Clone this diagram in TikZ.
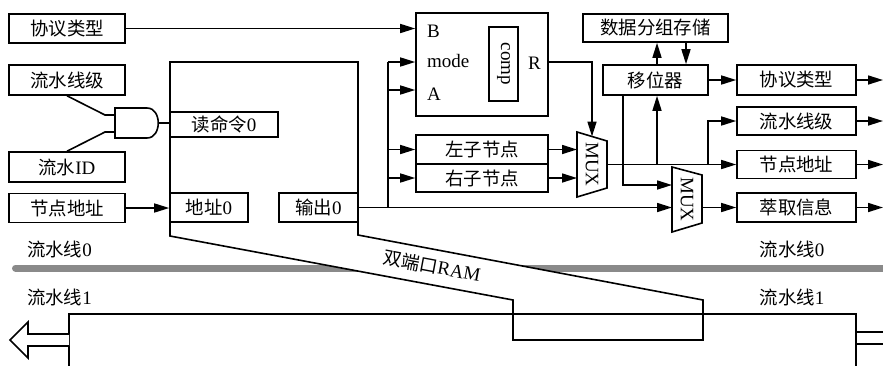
\documentclass[tikz,border=0pt]{standalone}
\usepackage{fontspec}
\setmainfont{Liberation Serif}
\newfontfamily\cjk[Scale=0.97]{Noto Sans CJK SC}
\usetikzlibrary{arrows.meta}
\newcommand\zh[1]{{\cjk #1}}
\newcommand\figfont{\fontsize{19}{22}\selectfont}
\definecolor{railgray}{RGB}{138,138,138}
\tikzset{
  ln/.style={line width=1.6pt},
  box/.style={draw, line width=1.6pt, inner sep=0pt, font=\figfont},
  arr/.style={line width=1.6pt, -{Triangle[length=15pt,width=9pt]}},
  lbl/.style={inner sep=0pt, font=\figfont},
}
\begin{document}
\begin{tikzpicture}[x=1pt,y=-1pt]
\useasboundingbox (0,0) rectangle (883,365);

% pipeline separator
\draw[line width=7pt, color=railgray, line cap=round] (15.5,268) -- (890,268);

% dual-port RAM outline (filled, covers the rail)
\draw[ln, fill=white] (170,62) -- (358,62) -- (358,235) -- (703,300) -- (703,340)
   -- (513,340) -- (513,300) -- (170,236) -- cycle;
\node[lbl, rotate=-10.6] (ramlbl) at (432,266) {\zh{双端口}RAM};

% pipeline 1
\draw[ln] (69,366) -- (69,314) -- (856,314) -- (856,366);
\draw[ln] (856,332) -- (884,332);
\draw[ln] (856,344) -- (884,344);
\draw[ln, fill=white] (69,334) -- (28,334) -- (28,322) -- (10,340) -- (28,358) -- (28,346) -- (69,346);

% pipeline labels
\node[lbl] (p0l) at (59.5,249) {\zh{流水线}0};
\node[lbl] (p1l) at (59.5,297) {\zh{流水线}1};
\node[lbl] (p0r) at (792,249) {\zh{流水线}0};
\node[lbl] (p1r) at (792,297) {\zh{流水线}1};

% left inputs
\node[box, minimum width=116, minimum height=29] (protoIn) at (67,28.5) {\zh{协议类型}};
\node[box, minimum width=116, minimum height=30] (stageIn) at (67,80) {\zh{流水线级}};
\node[box, minimum width=116, minimum height=30] (idIn) at (67,167) {\zh{流水}ID};
\node[box, minimum width=116, minimum height=29] (addrIn) at (67,208) {\zh{节点地址}};

% RAM ports
\node[box, minimum width=108, minimum height=25] (rd0) at (224,124.5) {\zh{读命令}0};
\node[box, minimum width=78, minimum height=29] (addr0) at (209,207.5) {\zh{地址}0};
\node[box, minimum width=79, minimum height=29] (out0) at (318.5,207.5) {\zh{输出}0};

% AND gate
\draw[ln, fill=white] (115,108) -- (147,108) .. controls (162,108) and (162,138) .. (147,138) -- (115,138) -- cycle;
\coordinate (gA) at (115,115);
\coordinate (gB) at (115,132);
\coordinate (gO) at (158,123);
\coordinate (gAk) at (105,115);
\coordinate (gBk) at (105,132);
\draw[ln] (stageIn.south) -- (gAk) -- (gA);
\draw[ln] (idIn.north) -- (gBk) -- (gB);
\draw[ln] (gO) -- (gO -| rd0.west);
\draw[arr] (addrIn.east) -- (addrIn.east -| addr0.west);

% comparator
\node[box, minimum width=132, minimum height=103] (cmp) at (482,64.5) {};
\node[box, rotate=-90, minimum width=74, minimum height=29] (cmpin) at (503.5,64) {comp};
\node[lbl, anchor=base west] (lB) at (427,37) {B};
\node[lbl, anchor=base west] (lmode) at (427,67) {mode};
\node[lbl, anchor=base west] (lA) at (427,100) {A};
\node[lbl, anchor=base west] (lR) at (528,69) {R};

% children
\node[box, minimum width=132, minimum height=29] (lc) at (482,149.5) {\zh{左子节点}};
\node[box, minimum width=132, minimum height=28] (rc) at (482,178) {\zh{右子节点}};

% MUX 1
\coordinate (m1a) at (577,132);
\coordinate (m1b) at (607,141);
\coordinate (m1c) at (607,188);
\coordinate (m1d) at (577,197);
\draw[ln] (m1a) -- (m1b) -- (m1c) -- (m1d) -- cycle;
\node[lbl, rotate=-90] (mux1) at (592,164.5) {MUX};
\coordinate (m1top) at (592,136.5);
\coordinate (m1l) at (577,164.5);
\coordinate (m1out) at (607,164.5);

% MUX 2
\coordinate (m2a) at (672,167);
\coordinate (m2b) at (702,175);
\coordinate (m2c) at (702,223);
\coordinate (m2d) at (672,232);
\draw[ln] (m2a) -- (m2b) -- (m2c) -- (m2d) -- cycle;
\node[lbl, rotate=-90] (mux2) at (687,199.5) {MUX};
\coordinate (m2l) at (672,200);
\coordinate (m2out) at (702,207.5);

% right side boxes
\node[box, minimum width=145, minimum height=28] (store) at (655.5,28) {\zh{数据分组存储}};
\node[box, minimum width=105, minimum height=30] (shifter) at (655.5,80) {\zh{移位器}};
\node[box, minimum width=119, minimum height=30] (protoOut) at (796.5,80) {\zh{协议类型}};
\node[box, minimum width=119, minimum height=28] (stageOut) at (796.5,121) {\zh{流水线级}};
\node[box, minimum width=119, minimum height=28] (addrOut) at (796.5,164.5) {\zh{节点地址}};
\node[box, minimum width=119, minimum height=29] (extract) at (796.5,207.5) {\zh{萃取信息}};

% connections into comparator
\draw[arr] (protoIn.east) -- (protoIn.east -| cmp.west);
\coordinate (v) at (388,207.5);
\coordinate (vm) at (388,62);
\coordinate (va) at (388,90);
\draw[ln] (v) -- (vm);
\draw[arr] (vm) -- (vm -| cmp.west);
\draw[arr] (va) -- (va -| cmp.west);
\draw[arr] (v |- lc.west) -- (lc.west);
\draw[arr] (v |- rc.west) -- (rc.west);
\draw[arr] (out0.east) -- (out0.east -| m2l);

% comparator result into MUX1
\coordinate (rj) at (592,62);
\draw[arr] (rj -| cmp.east) -- (rj) -- (m1top);
\draw[arr] (lc.east) -- (lc.east -| m1l);
\draw[arr] (rc.east) -- (rc.east -| m1l);

% MUX1 output and branches
\draw[arr] (m1out) -- (addrOut.west);
\coordinate (b1) at (657,164.5);
\coordinate (b2) at (708,164.5);
\draw[arr] (b1) -- (b1 |- shifter.south);
\draw[arr] (b2) -- (b2 |- stageOut.west) -- (stageOut.west);

% shifter and store
\draw[arr] (shifter.north -| b1) -- (store.south -| b1);
\coordinate (b3) at (686,50);
\draw[arr] (store.south -| b3) -- (shifter.north -| b3);
\draw[arr] (shifter.east) -- (protoOut.west);
\coordinate (b4) at (623,185);
\draw[arr] (shifter.south -| b4) -- (b4) -- (b4 -| m2l);

% MUX2 output
\draw[arr] (m2out) -- (extract.west);

% outputs to the right edge
\coordinate (edge) at (883,0);
\draw[arr] (protoOut.east) -- (protoOut.east -| edge);
\draw[arr] (stageOut.east) -- (stageOut.east -| edge);
\draw[arr] (addrOut.east) -- (addrOut.east -| edge);
\draw[arr] (extract.east) -- (extract.east -| edge);
\end{tikzpicture}
\end{document}
